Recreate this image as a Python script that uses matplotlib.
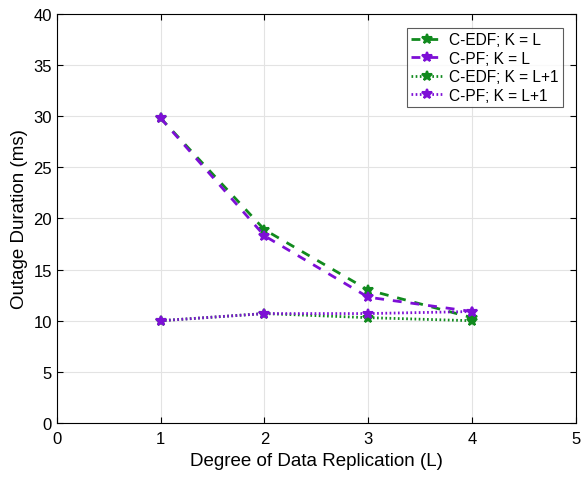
import matplotlib
matplotlib.use("Agg")
import matplotlib.pyplot as plt

L = [1, 2, 3, 4]
edf_kl = [29.8, 18.9, 13.0, 10.3]
pf_kl = [29.8, 18.3, 12.3, 10.9]
edf_kl1 = [10.0, 10.7, 10.3, 10.0]
pf_kl1 = [10.0, 10.7, 10.7, 10.9]
labels = ["C-EDF; K = L", "C-PF; K = L", "C-EDF; K = L+1", "C-PF; K = L+1"]

green = "#118a1e"
purple = "#7d0fd6"

plt.rcParams['font.family'] = ['Liberation Sans', 'DejaVu Sans']
fig = plt.figure(figsize=(5.81, 4.81), dpi=100)
ax = fig.add_axes([0.098, 0.1185, 0.893, 0.8505])

kw = dict(marker='*', markersize=7.5, markeredgewidth=1.5, linewidth=2.0)
ax.plot(L, edf_kl, color=green, linestyle=(0, (3.2, 3.2)), label=labels[0], **kw)
ax.plot(L, pf_kl, color=purple, linestyle=(0, (3.2, 3.2)), label=labels[1], **kw)
ax.plot(L, edf_kl1, color=green, linestyle=(0, (0.6, 0.9)), label=labels[2], **kw)
ax.plot(L, pf_kl1, color=purple, linestyle=(0, (0.6, 0.9)), label=labels[3], **kw)

ax.set_xlim(0, 5)
ax.set_ylim(0, 40)
ax.set_xticks(range(0, 6))
ax.set_yticks(range(0, 41, 5))
ax.grid(True, color='#e3e3e3', linewidth=0.8)
ax.set_axisbelow(True)
ax.tick_params(direction='in', labelsize=12, length=4, top=True, right=True)
ax.tick_params(axis='x', pad=6)
for s in ax.spines.values():
    s.set_linewidth(0.8)
ax.set_xlabel("Degree of Data Replication (L)", fontsize=13.5)
ax.set_ylabel("Outage Duration (ms)", fontsize=13.5)

leg = ax.legend(loc='upper right', fontsize=11.2, frameon=True, fancybox=False,
                edgecolor='#333333', handlelength=2.0, handletextpad=0.4,
                borderpad=0.3, labelspacing=0.22, bbox_to_anchor=(0.99, 0.985))
leg.get_frame().set_linewidth(0.8)

fig.savefig("out.png", dpi=100)
